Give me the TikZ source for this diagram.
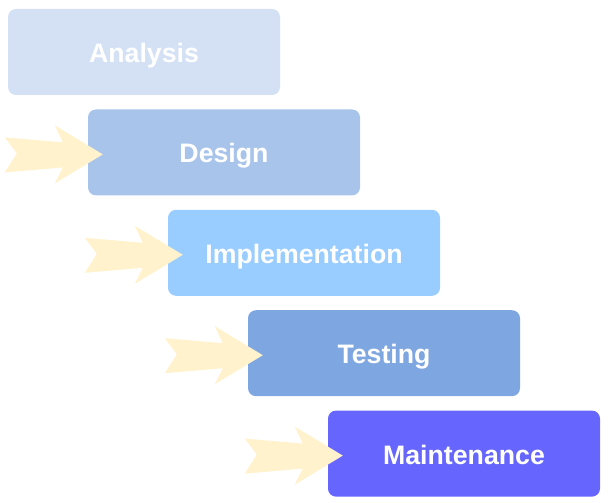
\documentclass[tikz,border=0pt]{standalone}
\usepackage{fontspec}
\setmainfont{Liberation Sans}
\usetikzlibrary{positioning}

\definecolor{analysisblue}{HTML}{D4E1F5}
\definecolor{designblue}{HTML}{A9C4EB}
\definecolor{implblue}{HTML}{99CCFF}
\definecolor{testblue}{HTML}{7EA6E0}
\definecolor{maintblue}{HTML}{6666FF}
\definecolor{arrowyellow}{HTML}{FFF2CC}

\begin{document}
\begin{tikzpicture}[
        x=1pt, y=-1pt,
        phase/.style={rectangle, rounded corners=8pt, minimum width=272pt, minimum height=86pt, inner sep=0pt,
            text height=21pt, text depth=0pt, text=white, font=\fontsize{26.7}{32}\selectfont\bfseries},
        fatarrow/.style={fill=arrowyellow, draw=none}
    ]
        \useasboundingbox (0,0) rectangle (608,503);

        \node[phase, fill=analysisblue] (analysis) at (144,52) {Analysis};
        \node[phase, fill=designblue, below=14pt of analysis.south, xshift=80pt] (design) {Design};
        \node[phase, fill=implblue, below=14pt of design.south, xshift=80pt] (implementation) {Implementation};
        \node[phase, fill=testblue, below=14pt of implementation.south, xshift=80pt] (testing) {Testing};
        \node[phase, fill=maintblue, below=14pt of testing.south, xshift=80pt] (maintenance) {Maintenance};

        % arrows into each phase
        \foreach \b in {design, implementation, testing, maintenance}
            \fill[fatarrow, shift={(\b.west)}] (-83,-15) -- (-25,-10) -- (-33,-27) -- (15,2)
                -- (-33,31) -- (-25,15) -- (-83,20) -- (-71,1) -- cycle;
    \end{tikzpicture}
\end{document}
